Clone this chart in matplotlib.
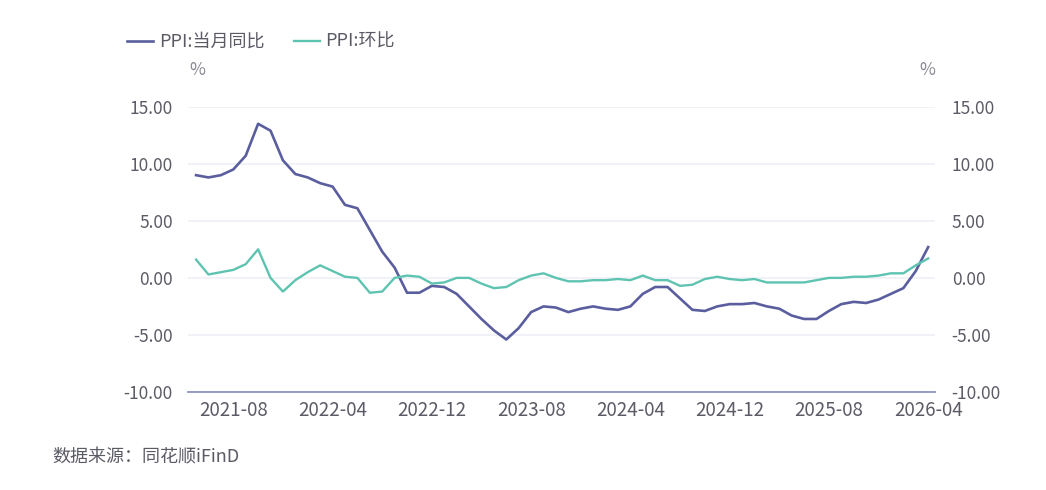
import matplotlib
matplotlib.use("Agg")
import matplotlib.pyplot as plt
import numpy as np

plt.rcParams['font.family'] = ['Noto Sans CJK SC', 'DejaVu Sans']

months = [f"{y}-{m:02d}" for y in range(2021, 2027) for m in range(1, 13)]
months = months[months.index("2021-05"):months.index("2026-04") + 1]

yoy = [9.0, 8.8, 9.0, 9.5, 10.7, 13.5, 12.9, 10.3,
       9.1, 8.8, 8.3, 8.0, 6.4, 6.1, 4.2, 2.3, 0.9, -1.3, -1.3, -0.7,
       -0.8, -1.4, -2.5, -3.6, -4.6, -5.4, -4.4, -3.0, -2.5, -2.6, -3.0, -2.7,
       -2.5, -2.7, -2.8, -2.5, -1.4, -0.8, -0.8, -1.8, -2.8, -2.9, -2.5, -2.3,
       -2.3, -2.2, -2.5, -2.7, -3.3, -3.6, -3.6, -2.9, -2.3, -2.1, -2.2, -1.9,
       -1.4, -0.9, 0.6, 2.7]
mom = [1.6, 0.3, 0.5, 0.7, 1.2, 2.5, 0.0, -1.2,
       -0.2, 0.5, 1.1, 0.6, 0.1, 0.0, -1.3, -1.2, 0.0, 0.2, 0.1, -0.5,
       -0.4, 0.0, 0.0, -0.5, -0.9, -0.8, -0.2, 0.2, 0.4, 0.0, -0.3, -0.3,
       -0.2, -0.2, -0.1, -0.2, 0.2, -0.2, -0.2, -0.7, -0.6, -0.1, 0.1, -0.1,
       -0.2, -0.1, -0.4, -0.4, -0.4, -0.4, -0.2, 0.0, 0.0, 0.1, 0.1, 0.2,
       0.4, 0.4, 1.1, 1.7]
xtick_labels = ["2021-08", "2022-04", "2022-12", "2023-08", "2024-04", "2024-12", "2025-08", "2026-04"]
yticks = [-10, -5, 0, 5, 10, 15]
series_names = ["PPI:当月同比", "PPI:环比"]

c_yoy = "#5a5e9e"
c_mom = "#5ec4b1"
txt = "#5b5b66"

fig = plt.figure(figsize=(10.46, 4.90), dpi=100)
ax = fig.add_axes([188/1046, 1-392/490, (935-188)/1046, (392-106.7)/490])
x = np.arange(len(months))
l1, = ax.plot(x, yoy, color=c_yoy, lw=1.9, label=series_names[0], solid_joinstyle='round')
l2, = ax.plot(x, mom, color=c_mom, lw=1.7, label=series_names[1], solid_joinstyle='round')

ax.set_xlim(-0.65, len(months) - 1 + 0.55)
ax.set_ylim(-10, 15)
ax.set_yticks(yticks)
ax.set_yticklabels([f"{v:.2f}" for v in yticks])
ax.grid(axis='y', color='#eef0f6', lw=1.2)
ax.set_axisbelow(True)
for s in ['top', 'right', 'left']:
    ax.spines[s].set_visible(False)
ax.spines['bottom'].set_color('#8d93bd')
ax.spines['bottom'].set_linewidth(1.3)
ax.set_xticks([months.index(m) for m in xtick_labels])
ax.set_xticklabels(xtick_labels)
ax.tick_params(axis='x', length=0, pad=6, labelsize=13.5, labelcolor=txt)
ax.tick_params(axis='y', length=0, pad=11, labelsize=12.5, labelcolor=txt)

ax2 = ax.twinx()
ax2.set_ylim(-10, 15)
ax2.set_yticks(yticks)
ax2.set_yticklabels([f"{v:.2f}" for v in yticks])
for s in ['top', 'right', 'left', 'bottom']:
    ax2.spines[s].set_visible(False)
ax2.tick_params(axis='y', length=0, pad=12, labelsize=12.5, labelcolor=txt)

fig.text(197/1046, 1-70/490, "%", color="#8a8a94", fontsize=12.5, ha='center', va='center')
fig.text(927/1046, 1-70/490, "%", color="#8a8a94", fontsize=12.5, ha='center', va='center')

fig.legend(handles=[l1, l2], loc='center left', bbox_to_anchor=(120/1046, 1-42/490),
           ncol=2, frameon=False, fontsize=13, handlelength=1.44, handletextpad=0.33,
           columnspacing=1.6, borderaxespad=0, labelcolor=txt)

fig.text(52/1046, 1-457/490, "数据来源：同花顺iFinD", color=txt, fontsize=13, ha='left', va='center')

fig.savefig("out.png", dpi=100)
